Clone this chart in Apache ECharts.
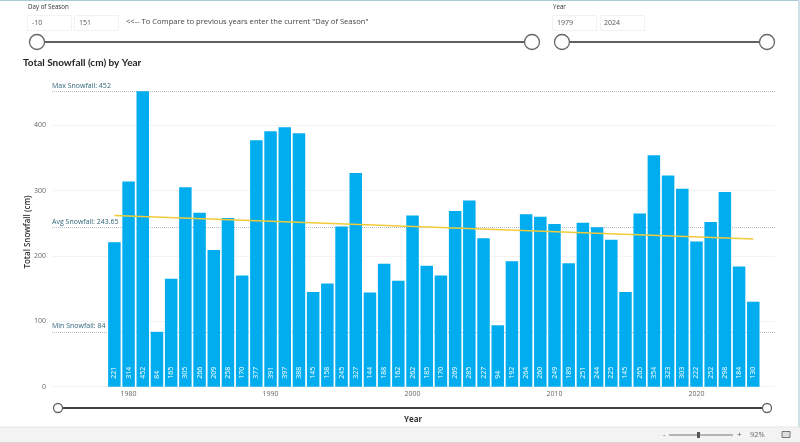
<!DOCTYPE html>
<html>
<head>
<meta charset="utf-8">
<style>
html, body { margin: 0; padding: 0; background: #fff; }
#main { width: 800px; height: 443px; }
</style>
<script src="https://cdn.jsdelivr.net/npm/echarts@6/dist/echarts.min.js"></script>
</head>
<body>
<div id="main"></div>
<script>
var startYear = 1979;
var snowfall = [221, 314, 452, 84, 165, 305, 266, 209, 258, 170, 377, 391, 397, 388, 145, 158, 245, 327, 144, 188, 162, 262, 185, 170, 269, 285, 227, 94, 192, 264, 260, 249, 189, 251, 244, 225, 145, 265, 354, 323, 303, 222, 252, 298, 184, 130];
var yearTicks = [1980, 1990, 2000, 2010, 2020];
var snowTicks = [0, 100, 200, 300, 400];
var trendYears = [1979, 2024];
var trendValues = [262, 226];
var refNames = ['Max Snowfall: 452', 'Avg Snowfall: 243.65', 'Min Snowfall: 84'];
var refValues = [452, 243.65, 84];

var font = '"Open Sans", sans-serif';
var titleFont = 'Lato, sans-serif';
var textGrey = '#666666';

var barData = snowfall.map(function (v, i) { return [startYear + i, v]; });
var trendData = trendYears.map(function (y, i) { return [y, trendValues[i]]; });
var refLines = refValues.map(function (v, i) {
    return { yAxis: v, label: { formatter: refNames[i] } };
});

function text(x, y, str, size, color, extra) {
    var style = { x: x, y: y, text: str, fontSize: size, fontFamily: font, fill: color, textVerticalAlign: 'middle' };
    for (var k in (extra || {})) { style[k] = extra[k]; }
    return { type: 'text', silent: true, style: style };
}
function box(x, y, w, h, fill, stroke) {
    return { type: 'rect', silent: true, shape: { x: x, y: y, width: w, height: h }, style: { fill: fill, stroke: stroke || null, lineWidth: 1 } };
}
function line(x1, y1, x2, y2, color, width) {
    return { type: 'line', silent: true, shape: { x1: x1, y1: y1, x2: x2, y2: y2 }, style: { stroke: color, lineWidth: width } };
}
function knob(x, y, r) {
    return { type: 'circle', silent: true, shape: { cx: x, cy: y, r: r }, style: { fill: '#fff', stroke: '#666', lineWidth: 1.3 }, z: 5 };
}
function slider(x1, x2, y, color, width, r) {
    return [line(x1, y, x2, y, color, width), knob(x1, y, r), knob(x2, y, r)];
}

var elements = [
    box(0, 0, 800, 1, '#a9cbd8'),
    box(798, 0, 2, 427, '#cfe0e8'),
    box(0, 427, 800, 15, '#f3f3f3'),
    line(0, 427, 800, 427, '#e6e6e6', 1),
    line(0, 442.5, 800, 442.5, '#d8d8d8', 1),
    text(28, 7.5, 'Day of Season', 6.2, '#333'),
    box(27.5, 15.5, 44, 15, '#fff', '#f2f2f2'),
    box(74.5, 15.5, 44, 15, '#fff', '#f2f2f2'),
    text(32, 23, '-10', 7, '#555'),
    text(79, 23, '151', 7, '#555'),
    text(126, 22, '<<-- To Compare to previous years enter the current "Day of Season"', 7.6, '#444'),
    text(553, 7.5, 'Year', 6.2, '#333'),
    box(552.5, 15.5, 44, 15, '#fff', '#f2f2f2'),
    box(600.5, 15.5, 44, 15, '#fff', '#f2f2f2'),
    text(557, 23, '1979', 7, '#555'),
    text(604, 23, '2024', 7, '#555'),
    text(23, 63, 'Total Snowfall (cm) by Year', 10, '#252423', { fontFamily: titleFont, fontWeight: 'bold' }),
    text(404, 420, 'Year', 8, '#333', { fontWeight: 'bold' })
].concat(
    slider(37, 532, 42, '#606060', 2, 7.5),
    slider(562, 767, 42, '#606060', 2, 7.5),
    slider(58, 767, 408, '#404040', 2, 4.5),
    [
        text(663, 435, '-', 8, '#555'),
        line(669, 435, 733, 435, '#777', 1),
        box(697, 432, 3, 6, '#555'),
        text(737, 435, '+', 8, '#555'),
        text(750, 435, '92%', 7.5, '#666'),
        box(782, 431.5, 8, 6, '#ddd', '#777')
    ]
);

var chart = echarts.init(document.getElementById('main'), null, { renderer: 'canvas' });
chart.setOption({
    animation: false,
    backgroundColor: '#fff',
    graphic: { elements: elements },
    grid: { left: 52, right: 25, top: 91.3, height: 295.4, containLabel: false },
    xAxis: {
        type: 'value',
        min: 1974.606,
        max: 2025.53,
        axisLine: { show: false },
        axisTick: { show: false },
        splitLine: { show: false },
        axisLabel: { customValues: yearTicks, color: textGrey, fontSize: 7, fontFamily: font, margin: 4, formatter: function (v) { return String(v); } }
    },
    yAxis: {
        type: 'value',
        min: 0,
        max: 452,
        name: 'Total Snowfall (cm)',
        nameLocation: 'middle',
        nameGap: 20,
        nameMoveOverlap: false,
        nameRotate: 90,
        nameTextStyle: { color: '#333', fontSize: 8, fontFamily: font, fontWeight: 600, padding: [0, 0, 0, 14] },
        axisLine: { show: false },
        axisTick: { show: false },
        axisLabel: { customValues: snowTicks, color: textGrey, fontSize: 7, fontFamily: font, margin: 6 },
        splitLine: { lineStyle: { color: '#f3f3f3', width: 1 }, showMaxLine: false }
    },
    series: [
        {
            // empty series only carries the reference lines, so they sit behind the bars
            type: 'line',
            data: [],
            z: 1,
            markLine: {
                silent: true,
                z: 1,
                symbol: 'none',
                data: refLines,
                lineStyle: { color: '#b8c0c4', type: 'dotted', width: 1 },
                label: { position: 'insideStartTop', distance: [0, 2], color: '#2f6478', fontSize: 7, fontFamily: font }
            }
        },
        {
            type: 'bar',
            data: barData,
            barWidth: 12.5,
            z: 2,
            itemStyle: { color: '#01ADEF' },
            label: {
                show: true,
                position: 'insideBottom',
                rotate: 90,
                align: 'left',
                verticalAlign: 'middle',
                distance: 8,
                color: '#fff',
                fontSize: 7,
                fontFamily: font,
                formatter: function (p) { return String(p.value[1]); }
            }
        },
        {
            type: 'line',
            data: trendData,
            symbol: 'none',
            z: 4,
            lineStyle: { color: '#F2CB3A', width: 1.5 }
        }
    ]
});
</script>
</body>
</html>
